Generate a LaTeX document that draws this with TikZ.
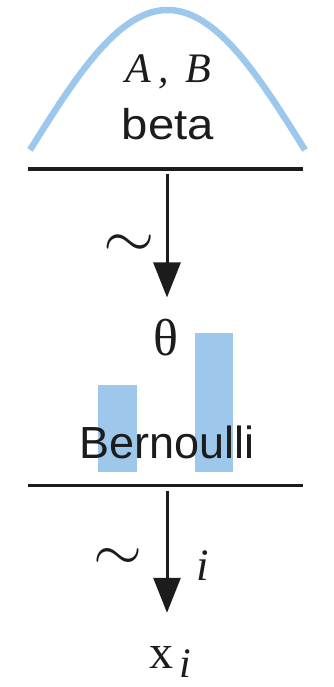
\documentclass[tikz,border=0pt]{standalone}
\usepackage{fontspec}
\setmainfont{Liberation Serif}
\newfontfamily\plotsans{Liberation Sans}
\usetikzlibrary{arrows.meta,positioning,calc}
\definecolor{plotblue}{RGB}{157,200,235}
\definecolor{plotdark}{RGB}{28,28,28}
\tikzset{
  plot rule/.style={
    draw=plotdark,
    line width=3pt,
  },
  plot arrow/.style={
    -{Triangle[length=35pt,width=27pt]},
    line width=3pt,
    draw=plotdark,
  },
  dist label/.style={
    font=\plotsans\fontsize{43}{50}\selectfont,
    text=plotdark,
    inner sep=0pt,
    anchor=base,
  },
  var label/.style={
    font=\fontsize{50}{56}\selectfont,
    text=plotdark,
    inner sep=0pt,
    anchor=base,
  },
}

\begin{document}
\begin{tikzpicture}[x=1pt,y=-1pt]
  \tikzstyle{simlabel}=[inner sep=0pt, text=plotdark]
  \useasboundingbox (0,0) rectangle (334,687);

  % Beta prior
  \draw[plotblue, line width=6.5pt, domain=0:180, samples=60, smooth]
    plot ({30+1.5278*\x}, {150-140*sin(\x)});
  \node[var label, font=\itshape\fontsize{42}{48}\selectfont] (params) at (168,83)
    {A\hspace{8pt},\hspace{16pt}B};
  \node[dist label] (beta) at (168,140) {\scalebox{1.1}[1]{beta}};
  \draw[plot rule] (28,169) -- (303,169);
  \coordinate (betabar) at (167,169);

  % Theta
  \node[var label, font=\fontsize{52}{58}\selectfont] (theta) at (166,355) {θ};
  \node[simlabel] (sim1) at (129,246) {\scalebox{6.6}[6.2]{$\sim$}};
  \draw[plot arrow, shorten <=5pt, shorten >=21pt] (betabar) -- (betabar |- theta.north);

  % Bernoulli likelihood
  \fill[plotblue] (98,385) rectangle (137,472);
  \fill[plotblue] (195,333) rectangle (233,472);
  \node[dist label, font=\plotsans\fontsize{45}{50}\selectfont] (bern) at (167,458) {Bernoulli};
  \draw[plot rule] (28,485) -- (303,485);
  \coordinate (bernbar) at (167,485);

  % Data
  \node[var label, font=\fontsize{48}{54}\selectfont] (xi) at (170,668)
    {x\hspace{6pt}\raisebox{-9pt}{\fontsize{42}{48}\selectfont\itshape i}};
  \node[simlabel] (sim2) at (118,559) {\scalebox{6.3}[6.0]{$\sim$}};
  \node[var label, font=\itshape\fontsize{45}{50}\selectfont] (idx) at (203,580) {i};
  \draw[plot arrow, shorten <=6pt, shorten >=33pt] (bernbar) -- (bernbar |- xi.north);
\end{tikzpicture}
\end{document}
